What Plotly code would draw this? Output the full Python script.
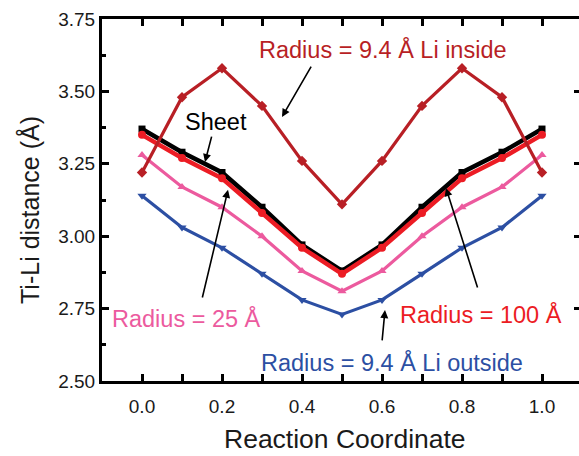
import plotly.graph_objects as go

# Data
reaction_coord = [0.0, 0.1, 0.2, 0.3, 0.4, 0.5, 0.6, 0.7, 0.8, 0.9, 1.0]
li_inside_94 = [3.22, 3.48, 3.58, 3.45, 3.26, 3.11, 3.26, 3.45, 3.58, 3.48, 3.22]
sheet = [3.37, 3.29, 3.22, 3.10, 2.97, 2.88, 2.97, 3.10, 3.22, 3.29, 3.37]
radius_100 = [3.35, 3.27, 3.20, 3.08, 2.96, 2.87, 2.96, 3.08, 3.20, 3.27, 3.35]
radius_25 = [3.28, 3.17, 3.10, 3.00, 2.88, 2.81, 2.88, 3.00, 3.10, 3.17, 3.28]
li_outside_94 = [3.14, 3.03, 2.96, 2.87, 2.78, 2.73, 2.78, 2.87, 2.96, 3.03, 3.14]

x_ticks = [0.0, 0.2, 0.4, 0.6, 0.8, 1.0]
x_ticklabels = ["0.0", "0.2", "0.4", "0.6", "0.8", "1.0"]
y_ticks = [2.50, 2.75, 3.00, 3.25, 3.50, 3.75]
y_ticklabels = ["2.50", "2.75", "3.00", "3.25", "3.50", "3.75"]

FONT = "Liberation Sans, Arial, Helvetica, sans-serif"

C_INSIDE = "#b81f25"
C_SHEET = "#000000"
C_100 = "#ec1c24"
C_25 = "#ec5a9e"
C_OUT = "#2c4fa3"

fig = go.Figure()

series = [
    (sheet, C_SHEET, "square", 4.5, 7, "Sheet"),
    (radius_100, C_100, "circle", 4.5, 8, "Radius = 100 Å"),
    (radius_25, C_25, "triangle-up", 3.2, 8, "Radius = 25 Å"),
    (li_outside_94, C_OUT, "triangle-down", 3.2, 8, "Radius = 9.4 Å Li outside"),
    (li_inside_94, C_INSIDE, "diamond", 3.2, 8, "Radius = 9.4 Å Li inside"),
]
for ys, col, sym, lw, ms, name in series:
    fig.add_trace(go.Scatter(
        x=reaction_coord, y=ys, mode="lines+markers", name=name,
        line=dict(color=col, width=lw),
        marker=dict(symbol=sym, size=ms, color=col),
        showlegend=False,
    ))

# invisible trace to anchor right axis
fig.add_trace(go.Scatter(x=[None], y=[None], yaxis="y2", showlegend=False, hoverinfo="skip"))

labels = [
    ("Radius = 9.4 Å Li inside", 0.6025, 3.645, C_INSIDE),
    ("Sheet", 0.185, 3.395, "#000000"),
    ("Radius = 25 Å", 0.11, 2.715, C_25),
    ("Radius = 100 Å", 0.8475, 2.73, C_100),
    ("Radius = 9.4 Å Li outside", 0.625, 2.565, C_OUT),
]
for txt, x, y, col in labels:
    fig.add_annotation(x=x, y=y, text=txt, showarrow=False,
                       font=dict(family=FONT, size=23.5, color=col),
                       xanchor="center", yanchor="middle")

arrows = [
    (0.35, 3.412, 0.425, 3.591),
    (0.1575, 3.256, 0.175, 3.349),
    (0.215, 3.160, 0.15, 2.783),
    (0.76, 3.166, 0.84, 2.818),
    (0.6075, 2.745, 0.60, 2.635),
]
for hx, hy, tx, ty in arrows:
    fig.add_annotation(x=hx, y=hy, ax=tx, ay=ty, xref="x", yref="y",
                       axref="x", ayref="y", text="", showarrow=True,
                       arrowhead=2, arrowsize=1.0, arrowwidth=1.6,
                       arrowcolor="#000000")

W, H = 579, 456
L, R, T, B = 102, 0, 19, 75
pw, ph = W - L - R, H - T - B

# axis titles (placed by pixel position converted to paper coords)
fig.add_annotation(text="Reaction Coordinate", xref="paper", yref="paper",
                   x=(345 - L) / pw, y=-(439 - T - ph) / ph,
                   xanchor="center", yanchor="middle", showarrow=False,
                   font=dict(family=FONT, size=26.5, color="#1a1a1a"))
fig.add_annotation(text="Ti-Li distance (Å)", xref="paper", yref="paper",
                   x=(29 - L) / pw, y=(T + ph - 210) / ph,
                   xanchor="center", yanchor="middle", showarrow=False, textangle=-90,
                   font=dict(family=FONT, size=25, color="#1a1a1a"))

fig.update_layout(
    width=W, height=H,
    margin=dict(l=L, r=R, t=T, b=B, pad=0),
    paper_bgcolor="white", plot_bgcolor="white",
    font=dict(family=FONT, size=18, color="#1a1a1a"),
    xaxis=dict(
        range=[-0.1, -0.1 + pw / 400.0],
        tickmode="array", tickvals=x_ticks, ticktext=x_ticklabels,
        ticks="inside", ticklen=7, tickwidth=2.5, tickcolor="black",
        minor=dict(dtick=0.1, tick0=0, ticks="inside", ticklen=4, tickwidth=2.5, tickcolor="black"),
        showline=True, linecolor="black", linewidth=3, mirror="allticks",
        showgrid=False, zeroline=False,
        tickfont=dict(family=FONT, size=19, color="#1a1a1a"),
        ticklabelstandoff=6,
    ),
    yaxis=dict(
        range=[2.5, 3.75],
        tickmode="array", tickvals=y_ticks, ticktext=y_ticklabels,
        ticks="inside", ticklen=7, tickwidth=2.5, tickcolor="black",
        minor=dict(dtick=0.125, tick0=2.5, ticks="inside", ticklen=4, tickwidth=2.5, tickcolor="black"),
        showline=True, linecolor="black", linewidth=3, mirror=False,
        showgrid=False, zeroline=False,
        tickfont=dict(family=FONT, size=19, color="#1a1a1a"),
    ),
    yaxis2=dict(
        range=[2.5, 3.75], overlaying="y", side="right",
        tickmode="array", tickvals=y_ticks, ticktext=["" for _ in y_ticks],
        ticks="inside", ticklen=5, tickwidth=2.5, tickcolor="black",
        showline=False, showgrid=False, zeroline=False, showticklabels=False,
    ),
)

fig.write_html("out.html")
